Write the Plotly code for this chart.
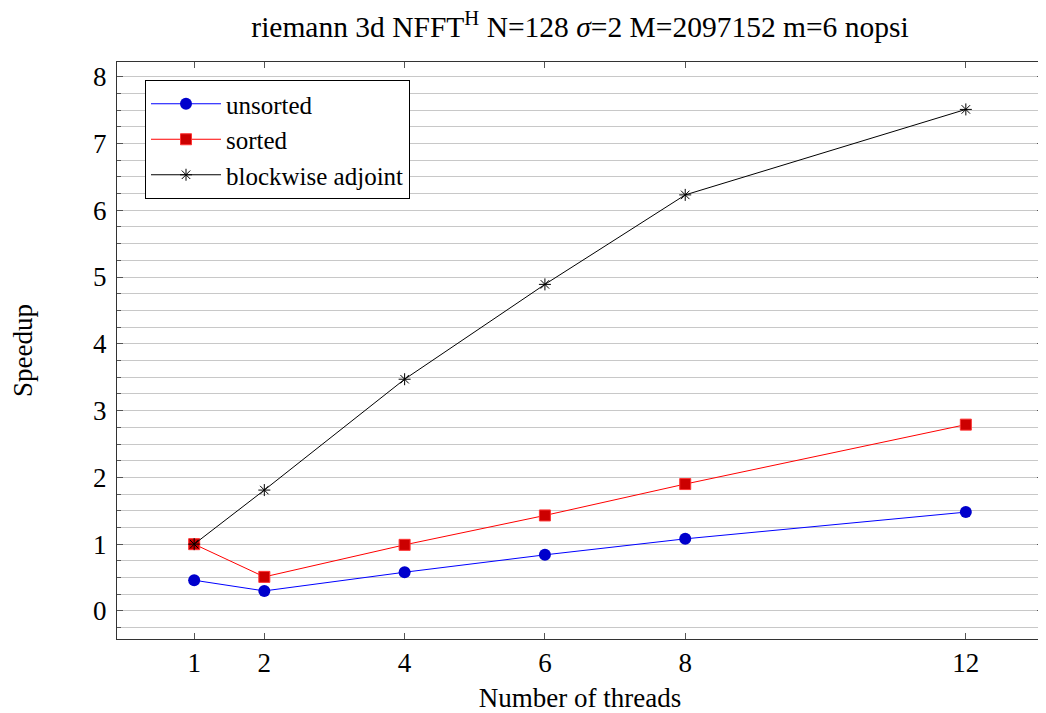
import plotly.graph_objects as go

threads = [1, 2, 4, 6, 8, 12]
unsorted = [0.46, 0.30, 0.58, 0.84, 1.08, 1.48]
sorted_ = [1.0, 0.51, 0.99, 1.43, 1.90, 2.79]
blockwise = [1.0, 1.81, 3.47, 4.89, 6.23, 7.51]
x_ticks = [1, 2, 4, 6, 8, 12]
y_ticks = [0, 1, 2, 3, 4, 5, 6, 7, 8]

FONT = "Liberation Serif"
FS = 27

fig = go.Figure()
fig.add_trace(go.Scatter(x=threads, y=unsorted, name="unsorted", mode="lines+markers",
                         line=dict(color="#0000ff", width=1),
                         marker=dict(symbol="circle", size=12, color="#0000cc")))
fig.add_trace(go.Scatter(x=threads, y=sorted_, name="sorted", mode="lines+markers",
                         line=dict(color="#ff0000", width=1),
                         marker=dict(symbol="square", size=11, color="#cc0000",
                                     line=dict(color="#ff3333", width=1))))
fig.add_trace(go.Scatter(x=threads, y=blockwise, name="blockwise adjoint", mode="lines+markers",
                         line=dict(color="#000000", width=1),
                         marker=dict(symbol="asterisk-open", size=10, color="#000000",
                                     line=dict(color="#000000", width=1))))

# page body has an 8px margin, so the figure is shifted by 8px; compensate
fig.update_layout(
    width=1038, height=705,
    margin=dict(l=109, r=3, t=54, b=74, autoexpand=False),
    paper_bgcolor="white", plot_bgcolor="white",
    font=dict(family=FONT, size=FS, color="black"),
    title=dict(text="riemann 3d NFFT<sup>H</sup> N=128 <i>σ</i>=2 M=2097152 m=6 nopsi",
               x=0.5, xanchor="center", xref="paper", y=1 - 19 / 705, yanchor="middle",
               font=dict(family=FONT, size=29.5)),
    legend=dict(x=(145 - 117) / 926, y=(639 - 80) / 577, xanchor="left", yanchor="top",
                bgcolor="white", bordercolor="black", borderwidth=1,
                font=dict(family=FONT, size=25), itemwidth=70, tracegroupgap=0),
    showlegend=True,
)
fig.update_xaxes(range=[-0.1, 13.1], tickvals=x_ticks, ticks="inside", ticklen=6,
                 tickcolor="#555555", showgrid=False, zeroline=False, automargin=False,
                 showline=True, linecolor="#333333", linewidth=1, mirror="ticks",
                 title=dict(text="Number of threads", font=dict(family=FONT, size=FS), standoff=13),
                 tickfont=dict(family=FONT, size=FS))
fig.update_yaxes(range=[-0.42, 8.22], tickvals=y_ticks, ticks="inside", ticklen=6,
                 tickcolor="#555555", showgrid=True, gridcolor="#c8c8c8", gridwidth=1,
                 zeroline=False, showline=True, linecolor="#333333", linewidth=1, mirror="ticks",
                 automargin=False, ticklabelstandoff=4,
                 minor=dict(dtick=0.25, tick0=0, ticks="inside", ticklen=4, tickcolor="#555555",
                            showgrid=True, gridcolor="#c8c8c8", gridwidth=1),
                 title=dict(text="Speedup", font=dict(family=FONT, size=FS), standoff=55),
                 tickfont=dict(family=FONT, size=FS))

fig.write_html("out.html")
